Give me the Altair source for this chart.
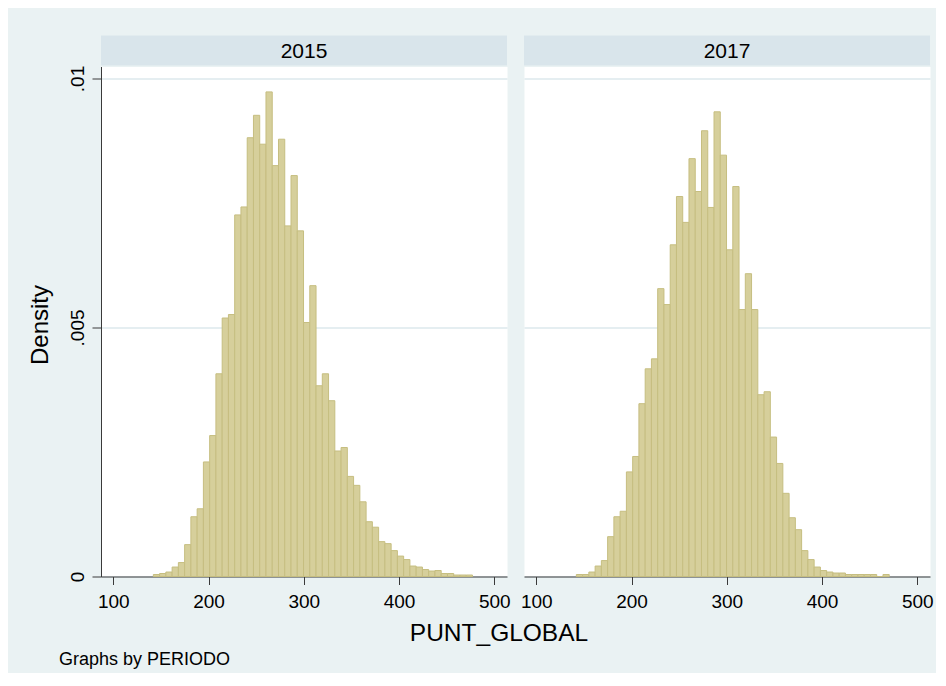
import altair as alt
import pandas as pd

# ---------------- data ----------------
YEARS = ["2015", "2017"]
BIN_START = 142.0
BIN_WIDTH = 6.57

DENSITY_2015 = [
    0.00004, 0.00006, 0.00009, 0.00019, 0.00028, 0.00064, 0.00120, 0.00136, 0.00230, 0.00283,
    0.00407, 0.00519, 0.00526, 0.00726, 0.00742, 0.00881, 0.00926, 0.00868, 0.00973, 0.00825,
    0.00878, 0.00704, 0.00805, 0.00694, 0.00510, 0.00584, 0.00383, 0.00407, 0.00353, 0.00252,
    0.00259, 0.00201, 0.00183, 0.00150, 0.00110, 0.00099, 0.00070, 0.00066, 0.00052, 0.00041,
    0.00034, 0.00021, 0.00019, 0.00014, 0.00011, 0.00012, 0.00006, 0.00006, 0.00003, 0.00003,
    0.00003,
]
DENSITY_2017 = [
    0.00004, 0.00004, 0.00009, 0.00021, 0.00032, 0.00080, 0.00120, 0.00131, 0.00210, 0.00241,
    0.00347, 0.00417, 0.00437, 0.00578, 0.00546, 0.00666, 0.00763, 0.00711, 0.00839, 0.00773,
    0.00895, 0.00741, 0.00933, 0.00846, 0.00656, 0.00783, 0.00536, 0.00608, 0.00536, 0.00365,
    0.00371, 0.00280, 0.00227, 0.00167, 0.00118, 0.00094, 0.00052, 0.00034, 0.00019, 0.00012,
    0.00009, 0.00007, 0.00007, 0.00004, 0.00004, 0.00004, 0.00004, 0.00004, 0.00000, 0.00004,
]
X_TICKS = [100, 200, 300, 400, 500]
Y_TICKS = [0, 0.005, 0.01]
X_TITLE = "PUNT_GLOBAL"
Y_TITLE = "Density"
NOTE = "Graphs by PERIODO"

# ---------------- style ----------------
FONT = "Liberation Sans, Arial, sans-serif"
W, H = 406, 510
BG = "#EAF2F3"
STRIP = "#D9E5EB"
GRID = "#DDE8EC"
BAR_FILL = "#D6CF9B"
BAR_STROKE = "#C6BE80"
AXIS_COLOR = "#3a3a3a"

x_scale = alt.Scale(domain=[87.05, 513.3], nice=False, zero=False)
y_scale = alt.Scale(domain=[0, 0.01024], nice=False, zero=True)


def make_df(dens):
    lo = [BIN_START + i * BIN_WIDTH for i in range(len(dens))]
    return pd.DataFrame({
        "lo": lo,
        "hi": [v + BIN_WIDTH for v in lo],
        "density": dens,
        "base": [0.0] * len(dens),
    })


x_axis = alt.Axis(
    values=X_TICKS, format="d", title=None, grid=False,
    tickSize=8, tickColor=AXIS_COLOR, tickWidth=1,
    domainColor=AXIS_COLOR, domainWidth=1,
    labelFont=FONT, labelFontSize=19, labelColor="black", labelPadding=8,
    labelFlush=False, labelOverlap=False,
)

y_axis_left = alt.Axis(
    values=Y_TICKS,
    labelExpr="replace(format(datum.value, '~g'), '0.', '.')",
    title=Y_TITLE, titleFont=FONT, titleFontSize=24, titleFontWeight="normal",
    titleColor="black", titleAngle=270, titleX=-61, titleY=258,
    titleAlign="center", titleBaseline="middle",
    labelAngle=270, labelAlign="center", labelBaseline="bottom",
    labelFont=FONT, labelFontSize=19, labelColor="black", labelPadding=5,
    labelFlush=False, labelOverlap=False,
    tickSize=9, tickColor=AXIS_COLOR, tickWidth=1,
    domainColor=AXIS_COLOR, domainWidth=1,
    grid=True, gridColor=GRID, gridWidth=1.5,
)

y_axis_right = alt.Axis(
    values=Y_TICKS, labels=False, ticks=False, domain=False, title=None,
    grid=True, gridColor=GRID, gridWidth=1.5,
)


def panel(year, dens, first):
    bars = alt.Chart(make_df(dens)).mark_rect(
        fill=BAR_FILL, stroke=BAR_STROKE, strokeWidth=1
    ).encode(
        x=alt.X("lo:Q", scale=x_scale, axis=x_axis),
        x2="hi:Q",
        y=alt.Y("density:Q", scale=y_scale, axis=y_axis_left if first else y_axis_right),
        y2="base:Q",
    )
    lab = pd.DataFrame({"t": [year]})
    strip = alt.Chart(lab).mark_rect(fill=STRIP).encode(
        x=alt.value(0), x2=alt.value(W), y=alt.value(-31), y2=alt.value(-1)
    )
    strip_text = alt.Chart(lab).mark_text(
        font=FONT, fontSize=21, color="black", align="center", baseline="alphabetic"
    ).encode(text="t:N", x=alt.value(W / 2), y=alt.value(-9))
    layers = [bars, strip, strip_text]
    if first:
        xt = alt.Chart(pd.DataFrame({"t": [X_TITLE]})).mark_text(
            font=FONT, fontSize=24.5, color="black", align="center", baseline="alphabetic"
        ).encode(text="t:N", x=alt.value(398), y=alt.value(574))
        note = alt.Chart(pd.DataFrame({"t": [NOTE]})).mark_text(
            font=FONT, fontSize=18, color="black", align="left", baseline="alphabetic"
        ).encode(text="t:N", x=alt.value(-42), y=alt.value(598.5))
        layers += [xt, note]
    return alt.layer(*layers).properties(width=W, height=H)


chart = alt.hconcat(
    panel(YEARS[0], DENSITY_2015, True),
    panel(YEARS[1], DENSITY_2017, False),
    spacing=17,
    bounds="flush",
).properties(
    padding={"left": 19, "top": 26.5, "right": 2, "bottom": 3.5},
    background=BG,
).configure_view(
    fill="white", stroke="transparent"
)

chart.save("out.html", embed_options={"renderer": "svg", "actions": False})
